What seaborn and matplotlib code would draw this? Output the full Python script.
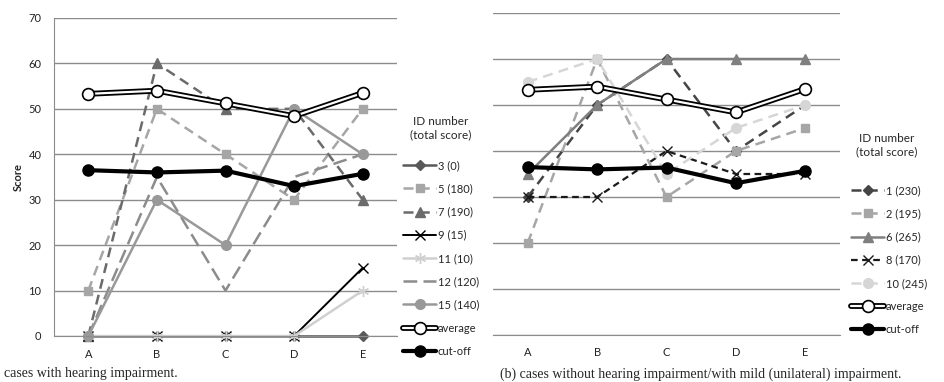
import matplotlib
matplotlib.use('Agg')
import matplotlib.pyplot as plt
from matplotlib.legend_handler import HandlerTuple
import seaborn as sns

# data
cats = ['A', 'B', 'C', 'D', 'E']

# (a) cases with hearing impairment
id3 = [0, 0, 0, 0, 0]
id5 = [10, 50, 40, 30, 50]
id7 = [0, 60, 50, 50, 30]
id9 = [0, 0, 0, 0, 15]
id11 = [0, 0, 0, 0, 10]
id12 = [0, 35, 10, 35, 40]
id15 = [0, 30, 20, 50, 40]

# (b) cases without hearing impairment / mild impairment
id1 = [30, 50, 60, 40, 50]
id2 = [20, 60, 30, 40, 45]
id6 = [35, 50, 60, 60, 60]
id8 = [30, 30, 40, 35, 35]
id10 = [55, 60, 35, 45, 50]

average = [53.3, 54.0, 51.2, 48.4, 53.5]
cutoff = [36.5, 36.0, 36.4, 33.0, 35.7]

sns.set_style('white')
plt.rcParams['font.family'] = ['Lato', 'DejaVu Sans']

fig = plt.figure(figsize=(9.44, 3.82), dpi=100)
W, H = 944, 382
ax1 = fig.add_axes([54 / W, (H - 336) / H, 343 / W, 318 / H])
ax2 = fig.add_axes([493 / W, (H - 335) / H, 347 / W, 322 / H])


def draw(ax, vals, color, marker, ls, lw, ms, label, mfc=None, mec=None, mew=1.0):
    sns.lineplot(x=cats, y=vals, ax=ax, color=color, marker=marker,
                 markersize=ms, linewidth=lw, legend=False)
    line = ax.lines[-1]
    line.set_linestyle(ls)
    line.set_markerfacecolor(mfc or color)
    line.set_markeredgecolor(mec or color)
    line.set_markeredgewidth(mew)
    line.set_clip_on(False)
    line.set_label(label)
    return line


def draw_avg_cut(ax):
    # double line for the average: thick black under thin white
    sns.lineplot(x=cats, y=average, ax=ax, color='black', linewidth=4.2, legend=False)
    outer = ax.lines[-1]
    outer.set_clip_on(False)
    inner = draw(ax, average, 'white', 'o', '-', 1.6, 8.5, 'average',
                 mfc='white', mec='black', mew=1.2)
    cut = draw(ax, cutoff, 'black', 'o', '-', 3.0, 8, 'cut-off')
    return (outer, inner), cut


def style_axes(ax, labels):
    ax.set_xlim(-0.5, 4.5)
    ax.set_ylim(0, 70)
    ax.set_yticks(range(0, 71, 10))
    ax.grid(axis='y', color='#8c8c8c', linewidth=1.0)
    ax.grid(axis='x', visible=False)
    ax.set_axisbelow(True)
    ax.tick_params(axis='both', length=0, labelsize=8, colors='#222222')
    ax.tick_params(axis='x', pad=9)
    ax.tick_params(axis='y', pad=9)
    if not labels:
        ax.set_yticklabels([])
    for s in ['top', 'right']:
        ax.spines[s].set_visible(False)
    ax.spines['bottom'].set_color('#8c8c8c')
    ax.spines['left'].set_color('#8c8c8c')
    ax.spines['left'].set_visible(labels)
    ax.set_xlabel('')
    ax.set_ylabel('')


# left panel
h_a = []
h_a.append(draw(ax1, id3, '#595959', 'D', '-', 1.8, 5, '3 (0)'))
h_a.append(draw(ax1, id5, '#a6a6a6', 's', (0, (4, 2.5)), 1.8, 6, '5 (180)'))
h_a.append(draw(ax1, id7, '#6b6b6b', '^', (0, (4, 2.5)), 1.8, 7, '7 (190)'))
h_a.append(draw(ax1, id9, 'black', 'x', '-', 1.4, 7, '9 (15)'))
h_a.append(draw(ax1, id11, '#d0d0d0', (6, 2, 0), '-', 1.8, 8, '11 (10)'))
h_a.append(draw(ax1, id12, '#8c8c8c', None, (0, (5.5, 2.5)), 1.8, 0, '12 (120)'))
h_a.append(draw(ax1, id15, '#999999', 'o', '-', 1.8, 7, '15 (140)'))
avg_a, cut_a = draw_avg_cut(ax1)
style_axes(ax1, True)

# right panel
h_b = []
h_b.append(draw(ax2, id1, '#454545', 'D', (0, (4, 2.5)), 1.8, 5, '1 (230)'))
h_b.append(draw(ax2, id2, '#a6a6a6', 's', (0, (4, 2.5)), 1.8, 6, '2 (195)'))
h_b.append(draw(ax2, id6, '#7f7f7f', '^', '-', 1.8, 7, '6 (265)'))
h_b.append(draw(ax2, id8, '#1a1a1a', 'x', (0, (3, 2)), 1.6, 7, '8 (170)'))
h_b.append(draw(ax2, id10, '#d6d6d6', 'o', (0, (4, 2.5)), 1.8, 7, '10 (245)'))
avg_b, cut_b = draw_avg_cut(ax2)
style_axes(ax2, False)

fig.text(18 / W, 1 - 177 / H, 'Score', rotation=90, fontsize=8,
         fontweight='bold', ha='center', va='center')

leg_kw = dict(frameon=False, fontsize=8, handlelength=3.0, handletextpad=0.15,
              labelspacing=1.1, borderpad=0, borderaxespad=0, loc='upper left',
              handler_map={tuple: HandlerTuple(ndivide=1, pad=0)})

labels_a = [h.get_label() for h in h_a] + ['average', 'cut-off']
fig.legend(h_a + [avg_a, cut_a], labels_a,
           bbox_to_anchor=(403 / W, 1 - 160 / H), **leg_kw)
labels_b = [h.get_label() for h in h_b] + ['average', 'cut-off']
fig.legend(h_b + [avg_b, cut_b], labels_b,
           bbox_to_anchor=(851 / W, 1 - 185 / H), **leg_kw)

fig.text(441 / W, 1 - 128 / H, 'ID number\n(total score)', fontsize=8.5,
         ha='center', va='center', linespacing=1.2)
fig.text(887 / W, 1 - 145 / H, 'ID number\n(total score)', fontsize=8.5,
         ha='center', va='center', linespacing=1.2)

fig.text(4 / W, 1 - 374 / H, 'cases with hearing impairment.',
         family='Liberation Serif', fontsize=10, va='center')
fig.text(500 / W, 1 - 374 / H,
         '(b) cases without hearing impairment/with mild (unilateral) impairment.',
         family='Liberation Serif', fontsize=10, va='center')

fig.savefig('out.png', dpi=100)
